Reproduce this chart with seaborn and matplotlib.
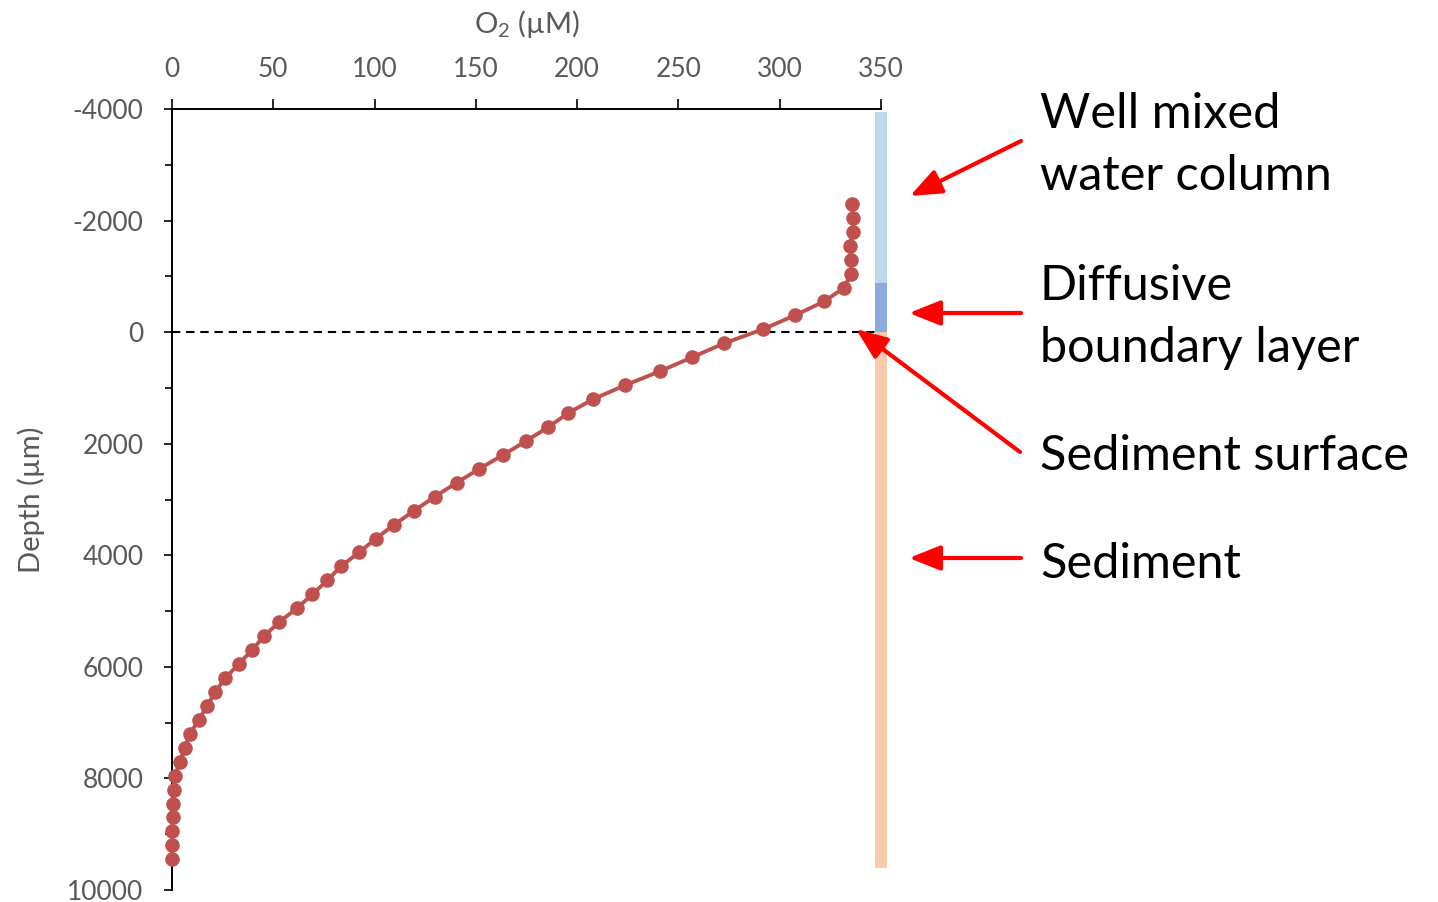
import numpy as np
import pandas as pd
import matplotlib
matplotlib.use("Agg")
import matplotlib.pyplot as plt
import seaborn as sns

# Oxygen microprofile: depth below sediment surface (µm) and O2 concentration (µM)
depth_um = [-2300, -2050, -1800, -1550, -1300, -1050, -800, -550, -300, -50,
            200, 450, 700, 950, 1200, 1450, 1700, 1950, 2200, 2450,
            2700, 2950, 3200, 3450, 3700, 3950, 4200, 4450, 4700, 4950,
            5200, 5450, 5700, 5950, 6200, 6450, 6700, 6950, 7200, 7450,
            7700, 7950, 8200, 8450, 8700, 8950, 9200, 9450]
o2_um = [335.5, 336.2, 336.2, 334.5, 335.3, 335.3, 331.9, 322.0, 307.4, 291.6,
         272.6, 256.8, 241.0, 223.8, 208.0, 195.6, 185.8, 174.9, 163.5, 151.7,
         140.5, 129.7, 119.6, 109.7, 100.7, 92.3, 83.3, 76.7, 69.3, 61.7,
         52.8, 45.4, 39.5, 32.9, 26.3, 21.4, 17.3, 13.2, 8.9, 6.4,
         3.9, 1.5, 0.8, 0.5, 0.3, 0.2, 0.1, 0.1]

# Zones shown as a stacked bar beside the profile (depth limits, µm)
zone_names = ["Well mixed water column", "Diffusive boundary layer", "Sediment"]
zone_top = [-3950, -880, 0]
zone_bottom = [-880, 0, 9600]
zone_colors = ["#BDD7EE", "#8EA9DB", "#F8CBAD"]
zone_x = 350

x_ticks = [0, 50, 100, 150, 200, 250, 300, 350]
y_ticks = [-4000, -2000, 0, 2000, 4000, 6000, 8000, 10000]

sns.set_style("white")
plt.rcParams["font.family"] = ["Lato", "DejaVu Sans"]
plt.rcParams["mathtext.default"] = "regular"
plt.rcParams["axes.unicode_minus"] = False

W, H = 1438, 902
fig = plt.figure(figsize=(W / 100, H / 100), dpi=100)
ax = fig.add_axes([172 / W, 1 - 890 / H, (881 - 172) / W, (890 - 109) / H])

df = pd.DataFrame({"O2": o2_um, "Depth": depth_um})
sns.lineplot(data=df, x="O2", y="Depth", orient="y", sort=False, estimator=None,
             ax=ax, color="#C0504D", linewidth=2.8, marker="o", markersize=10.5,
             markeredgewidth=0, clip_on=False, zorder=5)

# sediment surface
ax.plot([0, 350], [0, 0], color="black", linestyle=(0, (4, 2.8)), linewidth=1.5,
        zorder=3)

for top, bot, col in zip(zone_top, zone_bottom, zone_colors):
    ax.bar(zone_x, bot - top, bottom=top, width=5.9, color=col, linewidth=0,
           clip_on=False, zorder=4)

ax.set_xlim(0, 350)
ax.set_ylim(10000, -4000)
ax.set_xticks(x_ticks)
ax.set_yticks(y_ticks)
ax.set_yticks([-3000, -1000, 1000, 3000, 5000, 7000, 9000], minor=True)
ax.xaxis.tick_top()
ax.xaxis.set_label_position("top")

for s in ["right", "bottom"]:
    ax.spines[s].set_visible(False)
for s in ["left", "top"]:
    ax.spines[s].set_color("black")
    ax.spines[s].set_linewidth(1.4)

tick_color = "#595959"
ax.tick_params(axis="x", which="major", top=True, bottom=False, direction="out",
               length=7.5, width=1.2, color="black", labelsize=19,
               labelcolor=tick_color, pad=12)
ax.tick_params(axis="y", which="major", left=True, direction="out", length=5.5,
               width=1.2, color="black", labelsize=19, labelcolor=tick_color,
               pad=15)
ax.tick_params(axis="y", which="minor", left=True, direction="out", length=5,
               width=1.2, color="black")

ax.set_xlabel("O$_2$ (µM)", fontsize=21, color=tick_color, labelpad=17)
ax.set_ylabel("Depth (µm)", fontsize=21, color=tick_color, labelpad=16)
ax.grid(False)

# zone labels with arrows
label_size = 35
lines = [("Well mixed", 128), ("water column", 190), ("Diffusive", 300),
         ("boundary layer", 362), ("Sediment surface", 470), ("Sediment", 578)]
for txt, yb in lines:
    fig.text(1040 / W, 1 - yb / H, txt, fontsize=label_size, color="black",
             ha="left", va="baseline")

arrows = [((1021, 141), (910, 196)), ((1021, 313), (909, 313)),
          ((1020, 452), (856, 329)), ((1021, 558), (909, 558))]
for (x0, y0), (x1, y1) in arrows:
    ax.annotate("", xy=(x1, H - y1), xytext=(x0, H - y0),
                xycoords="figure pixels", textcoords="figure pixels",
                arrowprops=dict(arrowstyle="-|>,head_length=0.95,head_width=0.38",
                                color="#FF0000", lw=3, mutation_scale=20,
                                shrinkA=0, shrinkB=0),
                annotation_clip=False, zorder=10)

fig.savefig("out.png", dpi=100)
